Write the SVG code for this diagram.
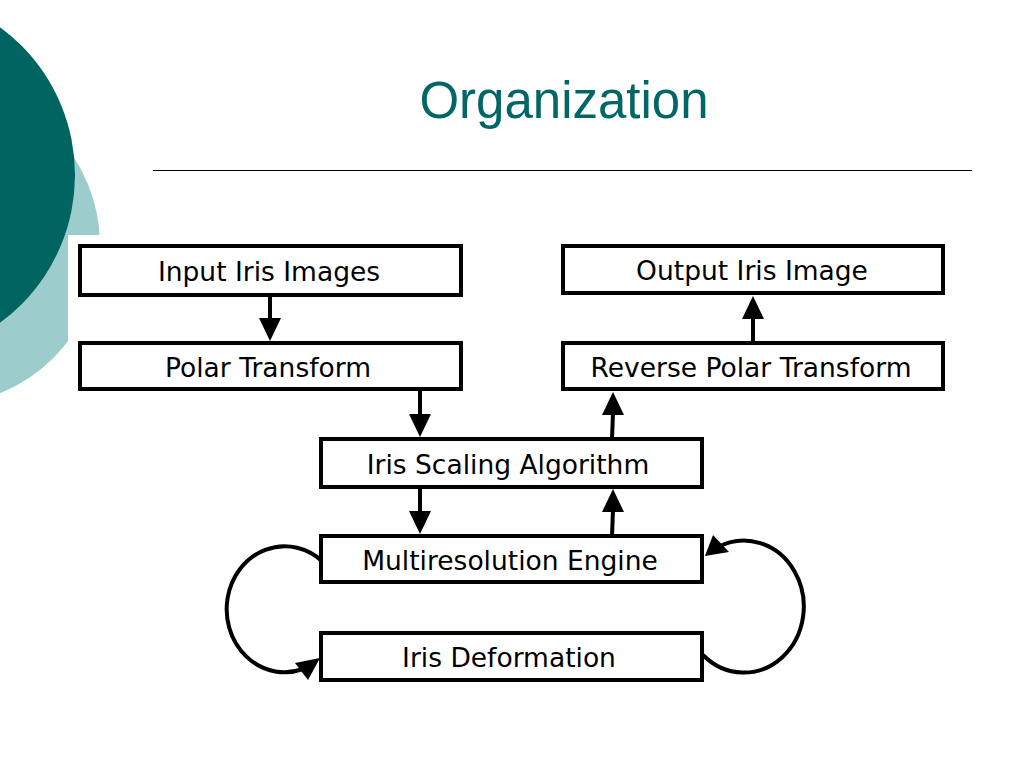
<svg xmlns="http://www.w3.org/2000/svg" width="1024" height="768" viewBox="0 0 1024 768">
<style>
.box{fill:#fff;stroke:#000;stroke-width:4}
.lbl{font-family:"DejaVu Sans",sans-serif;font-size:26.5px;fill:#000;text-anchor:middle}
.ln{stroke:#000;stroke-width:4;fill:none}
.hd{fill:#000}
</style>
<rect width="1024" height="768" fill="#fff"/>
<g id="background">
<circle cx="-60" cy="245" r="160" fill="#9ccccc"/>
<rect x="68" y="235" width="60" height="200" fill="#fff"/>
<circle cx="-108" cy="175" r="183" fill="#006461"/>
</g>
<text x="564" y="118" font-family="Liberation Sans, Arial, sans-serif" font-size="51" fill="#006666" text-anchor="middle">Organization</text>
<line x1="153" y1="170.5" x2="972" y2="170.5" stroke="#000" stroke-width="1.2"/>
<g id="connectors">
<line class="ln" x1="270" y1="296" x2="270" y2="320"/><polygon class="hd" points="259,318 281,318 270,341"/>
<line class="ln" x1="420" y1="389" x2="420" y2="416"/><polygon class="hd" points="409,414 431,414 420,437"/>
<line class="ln" x1="420" y1="487" x2="420" y2="513"/><polygon class="hd" points="409,511 431,511 420,534"/>
<line class="ln" x1="612" y1="536" x2="613" y2="510"/><polygon class="hd" points="602,512 624,512 613,489"/>
<line class="ln" x1="612" y1="439" x2="613" y2="413"/><polygon class="hd" points="602,415 624,415 613,392"/>
<line class="ln" x1="753" y1="343" x2="753" y2="317"/><polygon class="hd" points="742,319 764,319 753,296"/>
<path class="ln" d="M322,561 A 58 63 0 1 0 303,669"/>
<polygon class="hd" points="320,658 295,663 308,680"/>
<path class="ln" d="M703,655 A 60 66 0 1 0 718,547"/>
<polygon class="hd" points="705,556 713,535 729,552"/>
</g>
<g id="n-input"><rect class="box" x="80" y="246" width="381" height="49"/><text class="lbl" x="269" y="281">Input Iris Images</text></g>
<g id="n-polar"><rect class="box" x="80" y="343" width="381" height="46"/><text class="lbl" x="268" y="377">Polar Transform</text></g>
<g id="n-output"><rect class="box" x="563" y="246" width="380" height="47"/><text class="lbl" x="752" y="280">Output Iris Image</text></g>
<g id="n-reverse"><rect class="box" x="563" y="343" width="380" height="46"/><text class="lbl" x="751" y="377">Reverse Polar Transform</text></g>
<g id="n-scaling"><rect class="box" x="321" y="439" width="381" height="48"/><text class="lbl" x="508" y="474">Iris Scaling Algorithm</text></g>
<g id="n-multi"><rect class="box" x="321" y="536" width="381" height="46"/><text class="lbl" x="510" y="570">Multiresolution Engine</text></g>
<g id="n-deform"><rect class="box" x="321" y="633" width="381" height="47"/><text class="lbl" x="509" y="667">Iris Deformation</text></g>
</svg>
